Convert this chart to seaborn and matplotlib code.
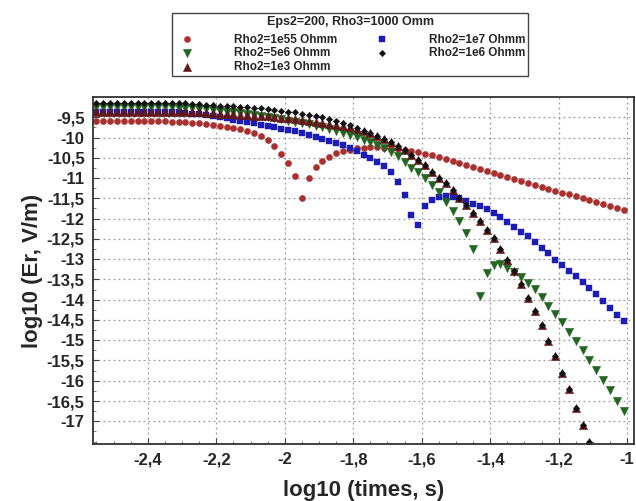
import matplotlib
matplotlib.use("Agg")
import matplotlib.pyplot as plt
from matplotlib.ticker import FixedLocator, FuncFormatter, MultipleLocator
import pandas as pd
import seaborn as sns

# ─── data ─────────────────────────────────────────────────────────────────────
LOG_T = [
    -2.55, -2.53, -2.51, -2.49, -2.47, -2.45, -2.43, -2.41, -2.39, -2.37,
    -2.35, -2.33, -2.31, -2.29, -2.27, -2.25, -2.23, -2.21, -2.19, -2.17,
    -2.15, -2.13, -2.11, -2.09, -2.07, -2.05, -2.03, -2.01, -1.99, -1.97,
    -1.95, -1.93, -1.91, -1.89, -1.87, -1.85, -1.83, -1.81, -1.79, -1.77,
    -1.75, -1.73, -1.71, -1.69, -1.67, -1.65, -1.63, -1.61, -1.59, -1.57,
    -1.55, -1.53, -1.51, -1.49, -1.47, -1.45, -1.43, -1.41, -1.39, -1.37,
    -1.35, -1.33, -1.31, -1.29, -1.27, -1.25, -1.23, -1.21, -1.19, -1.17,
    -1.15, -1.13, -1.11, -1.09, -1.07, -1.05, -1.03, -1.01,
]

ER_1E55 = [
    -9.59, -9.59, -9.59, -9.59, -9.59, -9.59, -9.59, -9.59, -9.59, -9.60,
    -9.60, -9.61, -9.61, -9.62, -9.64, -9.65, -9.67, -9.69, -9.71, -9.74,
    -9.77, -9.80, -9.84, -9.90, -9.96, -10.05, -10.20, -10.40, -10.62, -10.95,
    -11.50, -11.00, -10.72, -10.57, -10.47, -10.39, -10.34, -10.30, -10.27, -10.25,
    -10.24, -10.24, -10.25, -10.26, -10.28, -10.30, -10.32, -10.35, -10.40, -10.44,
    -10.49, -10.54, -10.59, -10.64, -10.68, -10.73, -10.78, -10.83, -10.88, -10.92,
    -10.97, -11.02, -11.07, -11.12, -11.16, -11.21, -11.26, -11.31, -11.36, -11.40,
    -11.45, -11.50, -11.55, -11.60, -11.64, -11.69, -11.74, -11.79,
]

ER_1E7 = [
    -9.36, -9.36, -9.36, -9.36, -9.36, -9.36, -9.36, -9.36, -9.36, -9.36,
    -9.36, -9.37, -9.38, -9.39, -9.41, -9.43, -9.45, -9.47, -9.50, -9.53,
    -9.56, -9.59, -9.62, -9.65, -9.68, -9.71, -9.74, -9.78, -9.81, -9.84,
    -9.88, -9.93, -9.98, -10.03, -10.09, -10.14, -10.19, -10.26, -10.33, -10.42,
    -10.51, -10.61, -10.71, -10.84, -11.10, -11.42, -11.90, -12.15, -11.68, -11.53,
    -11.46, -11.44, -11.46, -11.50, -11.56, -11.63, -11.69, -11.76, -11.85, -11.96,
    -12.08, -12.20, -12.32, -12.44, -12.57, -12.72, -12.86, -13.01, -13.14, -13.28,
    -13.42, -13.56, -13.70, -13.86, -14.03, -14.20, -14.37, -14.52,
]

ER_5E6 = [
    -9.24, -9.24, -9.24, -9.24, -9.24, -9.24, -9.24, -9.24, -9.24, -9.24,
    -9.25, -9.25, -9.26, -9.27, -9.28, -9.29, -9.30, -9.32, -9.34, -9.36,
    -9.38, -9.40, -9.42, -9.44, -9.47, -9.49, -9.52, -9.55, -9.58, -9.61,
    -9.64, -9.67, -9.71, -9.75, -9.79, -9.84, -9.89, -9.94, -9.99, -10.05,
    -10.11, -10.18, -10.26, -10.36, -10.46, -10.60, -10.74, -10.86, -11.01, -11.16,
    -11.34, -11.58, -11.82, -12.06, -12.35, -12.75, -13.90, -13.33, -13.15, -13.13,
    -13.22, -13.32, -13.44, -13.58, -13.74, -13.94, -14.15, -14.35, -14.56, -14.80,
    -15.02, -15.25, -15.48, -15.73, -15.99, -16.24, -16.50, -16.75,
]

# the two low-resistivity series run off the bottom of the plot after -1.11
ER_1E3 = [
    -9.36, -9.36, -9.36, -9.36, -9.36, -9.36, -9.36, -9.36, -9.36, -9.36,
    -9.36, -9.36, -9.37, -9.37, -9.38, -9.38, -9.39, -9.40, -9.41, -9.42,
    -9.43, -9.44, -9.45, -9.46, -9.47, -9.48, -9.50, -9.51, -9.53, -9.55,
    -9.57, -9.59, -9.61, -9.63, -9.66, -9.69, -9.72, -9.75, -9.79, -9.84,
    -9.90, -9.97, -10.04, -10.12, -10.21, -10.31, -10.42, -10.55, -10.68, -10.84,
    -11.00, -11.13, -11.29, -11.48, -11.67, -11.86, -12.06, -12.27, -12.49, -12.74,
    -13.02, -13.30, -13.62, -13.96, -14.28, -14.62, -15.02, -15.40, -15.80, -16.21,
    -16.66, -17.10, -17.52,
]

ER_1E6 = [
    -9.15, -9.15, -9.15, -9.15, -9.15, -9.15, -9.15, -9.15, -9.15, -9.15,
    -9.15, -9.15, -9.16, -9.16, -9.17, -9.18, -9.19, -9.20, -9.21, -9.22,
    -9.23, -9.24, -9.25, -9.27, -9.28, -9.30, -9.32, -9.34, -9.36, -9.38,
    -9.41, -9.44, -9.47, -9.50, -9.54, -9.59, -9.64, -9.70, -9.76, -9.83,
    -9.90, -9.97, -10.04, -10.12, -10.21, -10.31, -10.42, -10.55, -10.68, -10.84,
    -11.00, -11.13, -11.29, -11.48, -11.67, -11.86, -12.06, -12.27, -12.49, -12.74,
    -13.02, -13.30, -13.62, -13.96, -14.28, -14.62, -15.02, -15.40, -15.80, -16.21,
    -16.66, -17.10, -17.52,
]

LEGEND_TITLE = "Eps2=200, Rho3=1000 Omm"
X_TICKS = [-2.4, -2.2, -2.0, -1.8, -1.6, -1.4, -1.2, -1.0]
Y_TICKS = [-17.0, -16.5, -16.0, -15.5, -15.0, -14.5, -14.0, -13.5, -13.0,
           -12.5, -12.0, -11.5, -11.0, -10.5, -10.0, -9.5]

# (label, values, marker, size, colour) in drawing order
SERIES = [
    ("Rho2=1e55 Ohmm", ER_1E55, "o", 20, "#a8302e"),
    ("Rho2=1e7 Ohmm",  ER_1E7,  "s", 18, "#1c1cb8"),
    ("Rho2=5e6 Ohmm",  ER_5E6,  "v", 36, "#226622"),
    ("Rho2=1e3 Ohmm",  ER_1E3,  "^", 36, "#621818"),
    ("Rho2=1e6 Ohmm",  ER_1E6,  "D", 11, "#111111"),
]
LEGEND_ORDER = ["Rho2=1e55 Ohmm", "Rho2=5e6 Ohmm", "Rho2=1e3 Ohmm",
                "Rho2=1e7 Ohmm", "Rho2=1e6 Ohmm"]

# ─── style ────────────────────────────────────────────────────────────────────
sns.set_theme(style="white")
plt.rcParams["font.family"] = ["Liberation Sans", "DejaVu Sans"]

W, H = 636, 501
fig = plt.figure(figsize=(W / 100, H / 100), dpi=100)
ax = fig.add_axes([93 / W, 1 - 444 / H, (634 - 93) / W, (444 - 97) / H])

for label, vals, marker, size, colour in SERIES:
    df = pd.DataFrame({"t": LOG_T[:len(vals)], "er": vals})
    sns.scatterplot(data=df, x="t", y="er", ax=ax, marker=marker, s=size,
                    color=colour, edgecolor=colour, linewidth=0.3,
                    label=label, legend=False)

if ax.get_legend() is not None:
    ax.get_legend().remove()

ax.set_xlim(-2.56, -0.98)
ax.set_ylim(-17.56, -9.0)
ax.xaxis.set_major_locator(FixedLocator(X_TICKS))
ax.yaxis.set_major_locator(FixedLocator(Y_TICKS))
ax.xaxis.set_minor_locator(MultipleLocator(0.05))
ax.yaxis.set_minor_locator(MultipleLocator(0.25))
comma = FuncFormatter(lambda v, _: f"{v:g}".replace(".", ","))
ax.xaxis.set_major_formatter(comma)
ax.yaxis.set_major_formatter(comma)

ax.grid(True, which="major", linestyle=(0, (1.5, 2.5)), color="#9a9a9a", linewidth=0.9)
ax.tick_params(which="major", direction="in", length=4, width=0.8, color="#444",
               labelsize=12, pad=6)
ax.tick_params(which="minor", direction="in", length=2, width=0.6, color="#666")
ax.tick_params(axis="x", bottom=True, which="both")
ax.tick_params(axis="y", left=True, which="both")
for lab in ax.get_xticklabels() + ax.get_yticklabels():
    lab.set_fontweight("bold")
for sp in ax.spines.values():
    sp.set_color("#333333")
    sp.set_linewidth(1.3)

ax.set_xlabel("log10 (times, s)", fontsize=16, fontweight="bold", labelpad=9)
ax.set_ylabel("log10 (Er, V/m)", fontsize=16, fontweight="bold", labelpad=3)

# ─── legend above the plot ───────────────────────────────────────────────────
handles, labels = ax.get_legend_handles_labels()
lookup = dict(zip(labels, handles))
leg = fig.legend(
    [lookup[l] for l in LEGEND_ORDER], LEGEND_ORDER,
    title=LEGEND_TITLE, ncol=2, loc="upper left",
    bbox_to_anchor=(172 / W, 1 - 13 / H), borderaxespad=0,
    frameon=True, fancybox=False, framealpha=1, edgecolor="#444444",
    prop={"weight": "bold", "size": 8.5},
    title_fontproperties={"weight": "bold", "size": 9},
    handletextpad=3.0, columnspacing=2.75, labelspacing=0.15,
    borderpad=0.25, handlelength=2.0, scatterpoints=1,
)
leg._legend_box.sep = 4
leg.get_frame().set_linewidth(1.0)

fig.savefig("out.png", dpi=100)
